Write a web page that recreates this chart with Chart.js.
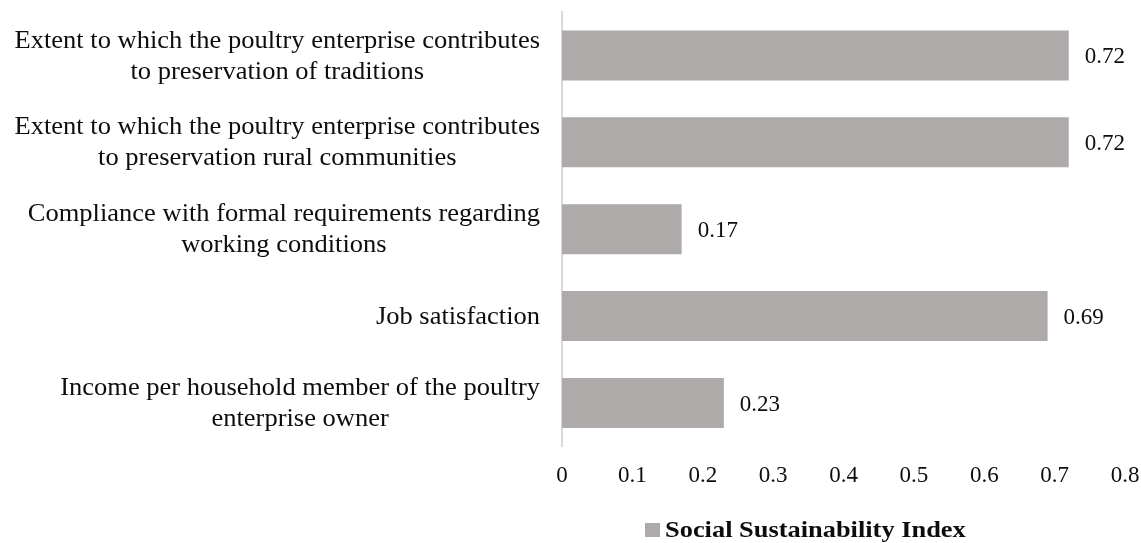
<!DOCTYPE html>
<html>
<head>
<meta charset="utf-8">
<title>Social Sustainability Index</title>
<script src="https://cdn.jsdelivr.net/npm/chart.js@4/dist/chart.umd.min.js"></script>
<style>
  html, body { margin: 0; padding: 0; background: #ffffff; }
  #wrap { position: relative; width: 1141px; height: 543px; }
</style>
</head>
<body>
<div id="wrap"><canvas id="chart"></canvas></div>
<script>
// Indicator names, one array of lines per category (top to bottom)
const categories = [
  ["Extent to which the poultry enterprise contributes", "to preservation of traditions"],
  ["Extent to which the poultry enterprise contributes", "to preservation rural communities"],
  ["Compliance with formal requirements regarding", "working conditions"],
  ["Job satisfaction"],
  ["Income per household member of the poultry", "enterprise owner"]
];
const indexValues = [0.72, 0.72, 0.17, 0.69, 0.23];
const seriesName = "Social Sustainability Index";
const xTicks = [0, 0.1, 0.2, 0.3, 0.4, 0.5, 0.6, 0.7, 0.8];

const SERIF = "'Liberation Serif', serif";
const TEXT = '#0d0d0d';
const BAR = '#aeaaa9';

// Draws text with a slight horizontal stretch
function stretchedText(ctx, text, x, y, align, sx) {
  ctx.save();
  ctx.translate(x, y);
  ctx.scale(sx, 1);
  ctx.textAlign = align;
  ctx.fillText(text, 0, 0);
  ctx.restore();
}

// Category labels: right-aligned blocks whose lines are centred on each other
const categoryLabels = {
  id: 'categoryLabels',
  afterDraw(chart) {
    const ctx = chart.ctx;
    const y = chart.scales.y;
    const sx = 1.06, lineGap = 31;
    ctx.save();
    ctx.font = '25px ' + SERIF;
    ctx.fillStyle = TEXT;
    ctx.textBaseline = 'middle';
    const right = y.right - 22;
    chart.data.labels.forEach((lines, i) => {
      const cy = y.getPixelForTick(i) + 1;
      const w = Math.max(...lines.map(l => ctx.measureText(l).width)) * sx;
      const cx = right - w / 2;
      lines.forEach((l, j) => {
        stretchedText(ctx, l, cx, cy + (j - (lines.length - 1) / 2) * lineGap, 'center', sx);
      });
    });
    ctx.restore();
  }
};

// Value labels to the right of each bar
const valueLabels = {
  id: 'valueLabels',
  afterDatasetsDraw(chart) {
    const ctx = chart.ctx;
    ctx.save();
    ctx.font = '23px ' + SERIF;
    ctx.fillStyle = TEXT;
    ctx.textBaseline = 'middle';
    chart.data.datasets.forEach((ds, di) => {
      chart.getDatasetMeta(di).data.forEach((bar, i) => {
        stretchedText(ctx, String(ds.data[i]), bar.x + 16, bar.y + 2, 'left', 1.0);
      });
    });
    ctx.restore();
  }
};

// Single-entry legend below the axis
const bottomLegend = {
  id: 'bottomLegend',
  afterDraw(chart) {
    const ctx = chart.ctx;
    const ds = chart.data.datasets[0];
    const x0 = chart.chartArea.left + 83;
    const cy = chart.height - 13;
    ctx.save();
    ctx.fillStyle = ds.backgroundColor;
    ctx.fillRect(x0, cy - 7, 15, 14);
    ctx.font = 'bold 24px ' + SERIF;
    ctx.fillStyle = TEXT;
    ctx.textBaseline = 'middle';
    stretchedText(ctx, ds.label, x0 + 20, cy + 1, 'left', 1.1);
    ctx.restore();
  }
};

function build() {
  new Chart(document.getElementById('chart'), {
    type: 'bar',
    data: {
      labels: categories,
      datasets: [{
        label: seriesName,
        data: indexValues,
        backgroundColor: BAR,
        borderWidth: 0,
        categoryPercentage: 1,
        barPercentage: 0.575
      }]
    },
    options: {
      indexAxis: 'y',
      responsive: true,
      maintainAspectRatio: false,
      animation: false,
      layout: { padding: { top: 12, right: 0, bottom: 37, left: 0 } },
      plugins: {
        legend: { display: false },
        tooltip: { enabled: false }
      },
      scales: {
        x: {
          min: 0,
          max: 0.8,
          afterBuildTicks(scale) { scale.ticks = xTicks.map(v => ({ value: v })); },
          afterFit(scale) { scale.paddingRight = 16; scale.paddingLeft = 0; },
          ticks: {
            font: { family: SERIF, size: 23 },
            color: TEXT,
            padding: 16,
            callback: v => String(v)
          },
          grid: { display: false, drawTicks: false },
          border: { display: false }
        },
        y: {
          ticks: { display: false },
          grid: { display: false, drawTicks: false },
          border: { display: true, color: '#d9d9d9', width: 2 },
          afterFit(scale) { scale.width = 562; }
        }
      }
    },
    plugins: [categoryLabels, valueLabels, bottomLegend]
  });
}

Promise.all([
  document.fonts.load("25px 'Liberation Serif'"),
  document.fonts.load("bold 24px 'Liberation Serif'")
]).then(build, build);
</script>
</body>
</html>
